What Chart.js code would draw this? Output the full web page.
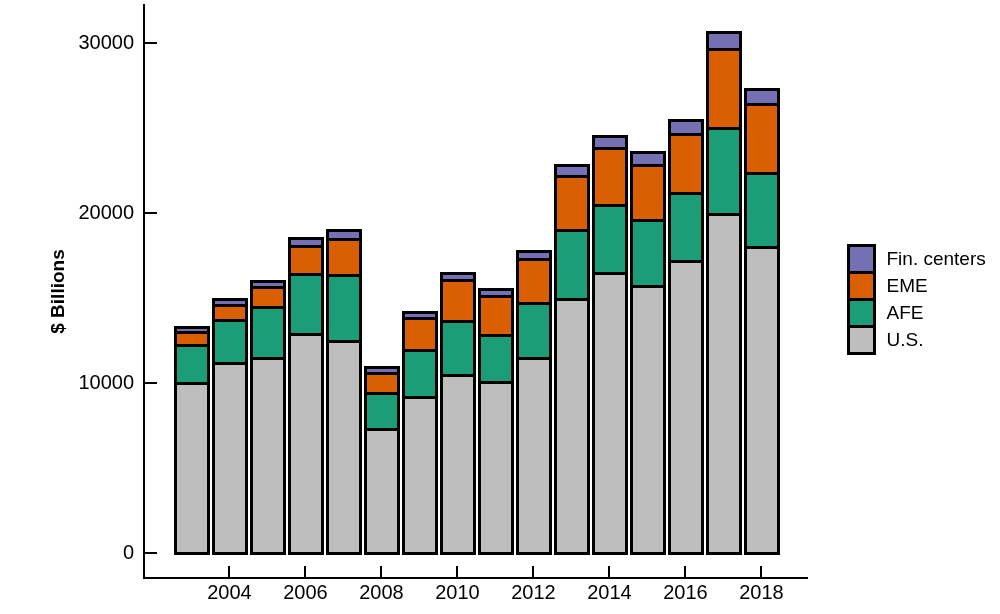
<!DOCTYPE html>
<html>
<head>
<meta charset="utf-8">
<script src="https://cdn.jsdelivr.net/npm/chart.js@4"></script>
<style>
  html, body { margin: 0; padding: 0; background: #fff; }
  #wrap { width: 1000px; height: 614px; }
</style>
</head>
<body>
<div id="wrap"><canvas id="chart"></canvas></div>
<script>
const years = [2003, 2004, 2005, 2006, 2007, 2008, 2009, 2010, 2011, 2012, 2013, 2014, 2015, 2016, 2017, 2018];
const usVals  = [10000, 11150, 11500, 12900, 12500, 7300, 9150, 10500, 10050, 11500, 14950, 16500, 15700, 17150, 19950, 18000];
const afeVals = [2250, 2550, 2950, 3500, 3850, 2100, 2800, 3150, 2800, 3200, 4050, 3950, 3900, 4050, 5050, 4350];
const emeVals = [750, 900, 1200, 1650, 2150, 1200, 1850, 2400, 2250, 2600, 3150, 3350, 3250, 3450, 4650, 4050];
const finVals = [300, 320, 350, 470, 500, 320, 400, 450, 430, 470, 650, 750, 750, 820, 1000, 900];

const xTicks = [2004, 2006, 2008, 2010, 2012, 2014, 2016, 2018];
const yTicks = [0, 10000, 20000, 30000];

const FONT = "'Liberation Sans', Arial, Helvetica, sans-serif";

function series(label, vals, color) {
  return {
    label: label,
    data: years.map((y, i) => ({ x: y, y: vals[i] })),
    backgroundColor: color,
    borderWidth: 0,
    inflateAmount: 0,
    categoryPercentage: 1.0,
    barPercentage: 0.87
  };
}

// black outline round every segment, drawn from the bar elements' own geometry
const segOutline = {
  id: "segOutline",
  afterDatasetsDraw(chart) {
    const ctx = chart.ctx;
    ctx.save();
    ctx.strokeStyle = "#000";
    ctx.lineWidth = 3;
    chart.data.datasets.forEach((ds, di) => {
      chart.getDatasetMeta(di).data.forEach(el => {
        const p = el.getProps(["x", "y", "base", "width"], true);
        const l = Math.round(p.x - p.width / 2) + 0.5;
        const r = Math.round(p.x + p.width / 2) + 0.5;
        const t = Math.round(Math.min(p.y, p.base)) + 0.5;
        const b = Math.round(Math.max(p.y, p.base)) + 0.5;
        ctx.strokeRect(l, t, r - l, b - t);
      });
    });
    ctx.restore();
  }
};

// tick marks point into the plot, like the original
const innerTicks = {
  id: "innerTicks",
  afterDraw(chart) {
    const { ctx, chartArea, scales } = chart;
    ctx.save();
    ctx.strokeStyle = "#000";
    ctx.lineWidth = 2;
    scales.y.ticks.forEach(t => {
      const py = Math.round(scales.y.getPixelForValue(t.value));
      ctx.beginPath();
      ctx.moveTo(chartArea.left, py);
      ctx.lineTo(chartArea.left + 13, py);
      ctx.stroke();
    });
    scales.x.ticks.forEach(t => {
      const px = Math.round(scales.x.getPixelForValue(t.value));
      ctx.beginPath();
      ctx.moveTo(px, chartArea.bottom);
      ctx.lineTo(px, chartArea.bottom - 12);
      ctx.stroke();
    });
    ctx.restore();
  }
};

// legend with touching boxes, top series first
const boxLegend = {
  id: "boxLegend",
  afterDraw(chart) {
    const { ctx, chartArea } = chart;
    const sets = chart.data.datasets.slice().reverse();
    const boxW = 26, boxH = 27;
    const x0 = chartArea.right + 41.5;
    const y0 = Math.round((chartArea.top + chartArea.bottom) / 2 - (sets.length * boxH) / 2 + 7) + 0.5;
    ctx.save();
    ctx.font = "19px " + FONT;
    ctx.textBaseline = "middle";
    sets.forEach((ds, i) => {
      const y = y0 + i * boxH;
      ctx.fillStyle = ds.backgroundColor;
      ctx.fillRect(x0, y, boxW, boxH);
      ctx.strokeStyle = "#000";
      ctx.lineWidth = 3;
      ctx.strokeRect(x0, y, boxW, boxH);
      ctx.fillStyle = "#000";
      ctx.fillText(ds.label, x0 + boxW + 12, y + boxH / 2 + 1);
    });
    ctx.restore();
  }
};

new Chart(document.getElementById("chart"), {
  type: "bar",
  data: {
    datasets: [
      series("U.S.", usVals, "#bebebe"),
      series("AFE", afeVals, "#1b9e77"),
      series("EME", emeVals, "#d95f02"),
      series("Fin. centers", finVals, "#7570b3")
    ]
  },
  options: {
    responsive: true,
    maintainAspectRatio: false,
    animation: false,
    layout: { padding: { top: 5, right: 193, left: 0, bottom: 0 } },
    plugins: {
      legend: { display: false },
      tooltip: { enabled: false }
    },
    scales: {
      x: {
        type: "linear",
        stacked: true,
        offset: false,
        min: 2001.75,
        max: 2019.2,
        grid: { display: false, drawTicks: false },
        border: { display: true, color: "#000", width: 2 },
        afterBuildTicks: s => { s.ticks = xTicks.map(v => ({ value: v })); },
        afterFit: s => { s.height = 36; s.paddingLeft = 0; s.paddingRight = 0; },
        ticks: {
          color: "#000",
          padding: 3,
          maxRotation: 0,
          font: { family: FONT, size: 20 },
          callback: v => String(v)
        }
      },
      y: {
        stacked: true,
        min: -1470,
        max: 32235,
        grid: { display: false, drawTicks: false },
        border: { display: true, color: "#000", width: 2 },
        afterBuildTicks: s => { s.ticks = yTicks.map(v => ({ value: v })); },
        afterFit: s => { s.width = 144; s.paddingTop = 0; s.paddingBottom = 0; },
        ticks: {
          color: "#000",
          padding: 10,
          font: { family: FONT, size: 20 },
          callback: v => String(v)
        },
        title: {
          display: true,
          text: "$ Billions",
          color: "#000",
          padding: { top: 47, bottom: 0 },
          font: { family: FONT, size: 19, weight: "bold" }
        }
      }
    }
  },
  plugins: [segOutline, innerTicks, boxLegend]
});
</script>
</body>
</html>
